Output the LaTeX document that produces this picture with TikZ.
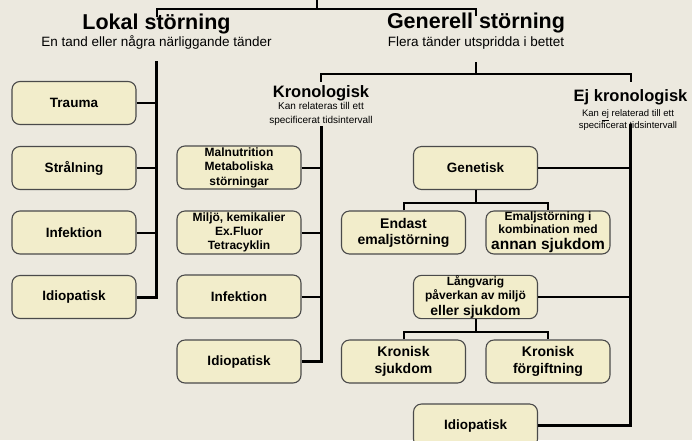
\documentclass[tikz,border=0pt]{standalone}
\usepackage{fontspec}
\setmainfont{Liberation Sans}
\definecolor{paper}{HTML}{ECE9DF}
\definecolor{boxfill}{HTML}{F2EDCB}
\definecolor{boxline}{HTML}{4A4A4A}
\newcommand{\fsz}[2]{\fontsize{#1}{#2}\selectfont}
\begin{document}
\begin{tikzpicture}[x=1pt,y=-1pt,
  box/.style={draw=boxline,line width=1.1pt,fill=boxfill,rounded corners=8pt,minimum width=124pt,minimum height=43pt,inner sep=0pt,align=center,font=\bfseries\fsz{13.5}{16}},
  spine/.style={line width=3pt},
  link/.style={line width=2pt},
  title/.style={font=\bfseries\fsz{21.5}{24},inner sep=0pt,anchor=base},
  subtitle/.style={font=\fsz{13.5}{16},inner sep=0pt,anchor=base},
  subhead/.style={font=\bfseries\fsz{16.5}{19},inner sep=0pt,anchor=base},
  note/.style={font=\fsz{10}{14},inner sep=0pt,anchor=base,align=center}]
\useasboundingbox (0,0) rectangle (692,440);
\clip (0,0) rectangle (692,440);
\fill[paper] (0,0) rectangle (692,440);
\def\xL{74};
\def\xK{239};
\def\xA{403.5};
\def\xB{475.5};
\def\xC{548};
\node[title] (lokal) at (156.5,29) {Lokal störning};
\node[subtitle] (lokalsub) at (156.5,46) {En tand eller några närliggande tänder};
\node[title] (generell) at (476,28) {Generell störning};
\node[subtitle] (generellsub) at (476,46) {Flera tänder utspridda i bettet};
\node[subhead] (kron) at (321,97.5) {Kronologisk};
\node[note] (kronsub) at (321,123.5) {Kan relateras till ett\\specificerat tidsintervall};
\node[subhead] (ejkron) at (630.5,101.5) {Ej kronologisk};
\node[note,font=\fsz{9.5}{11.5}] (ejkronsub) at (628,128) {Kan \underline{ej} relaterad till ett\\specificerat tidsintervall};
\node[box] (ltrauma) at (\xL,103) {Trauma};
\node[box] (lstral) at (\xL,168) {Strålning};
\node[box] (linf) at (\xL,232.5) {Infektion};
\node[box] (lidio) at (\xL,297) {Idiopatisk};
\node[box,font=\bfseries\fsz{12}{14.5}] (kmal) at (\xK,167.5) {Malnutrition\\Metaboliska\\störningar};
\node[box,font=\bfseries\fsz{12}{14}] (kmiljo) at (\xK,232.5) {Miljö, kemikalier\\Ex.Fluor\\Tetracyklin};
\node[box] (kinf) at (\xK,296.5) {Infektion};
\node[box] (kidio) at (\xK,361.5) {Idiopatisk};
\node[box] (genetisk) at (\xB,168) {Genetisk};
\node[box,font=\bfseries\fsz{14}{16}] (endast) at (\xA,232.5) {Endast\\emaljstörning};
\node[box,font=\bfseries\fsz{12}{13}] (emalj) at (\xC,232.5) {Emaljstörning i\\kombination med\\[3pt]{\fsz{15.5}{16}annan sjukdom}};
\node[box,font=\bfseries\fsz{12}{14.5}] (langvarig) at (\xB,297) {Långvarig\\påverkan av miljö\\[1.5pt]{\fsz{14}{14}eller sjukdom}};
\node[box,font=\bfseries\fsz{14}{17}] (ksjuk) at (\xA,361.5) {Kronisk\\sjukdom};
\node[box,font=\bfseries\fsz{14}{17}] (kforg) at (\xC,361.5) {Kronisk\\förgiftning};
\node[box] (eidio) at (\xB,425.5) {Idiopatisk};
\coordinate (top) at (316.7,0);
\coordinate (root) at (316.7,9);
\draw[link] (top) -- (root);
\draw[link] ([yshift=-4pt]lokal.north) |- (root) -| ([yshift=-4pt]generell.north);
\coordinate (lokalstem) at (156.5,61);
\draw[spine] (lokalstem) |- (lidio.east);
\foreach \n in {ltrauma,lstral,linf} \draw[link] (\n.east) -- (\n.east -| lokalstem);
\coordinate (genstem) at (476,62);
\coordinate (genbar) at (476,74);
\draw[link] (genstem) -- (genbar);
\draw[link] ([yshift=3.5pt]kron.north) |- (genbar) -| ([yshift=7pt]ejkron.north);
\coordinate (kronstem) at (321,126);
\draw[spine] (kronstem) |- (kidio.east);
\foreach \n in {kmal,kmiljo,kinf} \draw[link] (\n.east) -- (\n.east -| kronstem);
\coordinate (ejstem) at (630.5,124);
\draw[spine] (ejstem) |- (eidio.east);
\foreach \n in {genetisk,langvarig} \draw[link] (\n.east) -- (\n.east -| ejstem);
\coordinate (genfork) at (\xB,203);
\draw[link] (genetisk.south) -- (genfork);
\draw[link] (endast.north) |- (genfork) -| (emalj.north);
\coordinate (langfork) at (\xB,332);
\draw[link] (langvarig.south) -- (langfork);
\draw[link] (ksjuk.north) |- (langfork) -| (kforg.north);
\end{tikzpicture}
\end{document}
